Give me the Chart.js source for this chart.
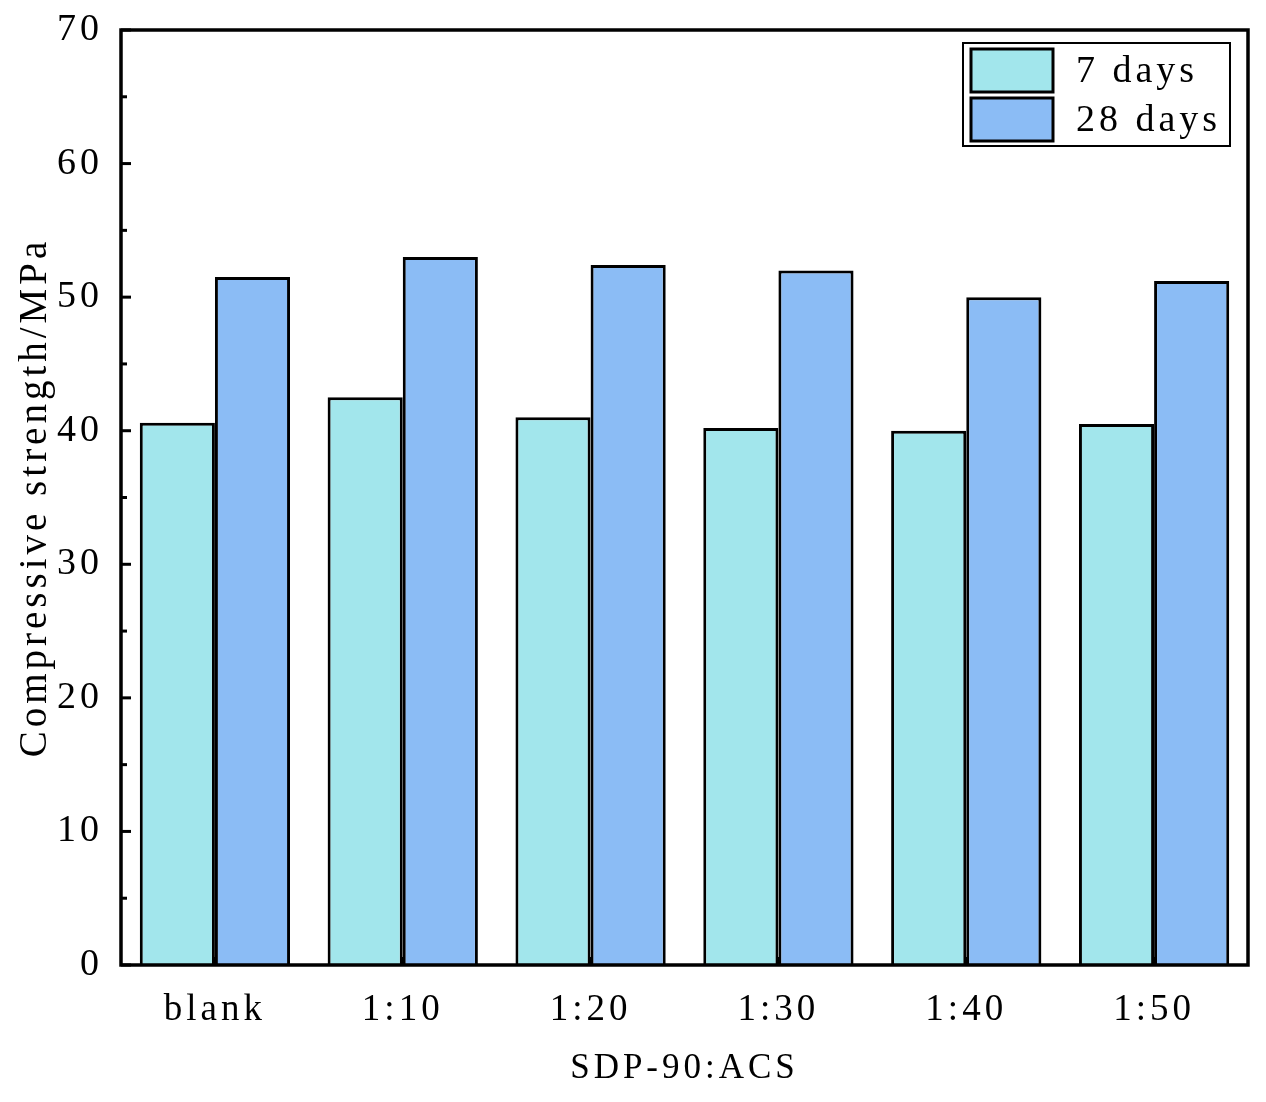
<!DOCTYPE html>
<html>
<head>
    <title>Compressive strength</title>
    <script src="https://cdn.jsdelivr.net/npm/chart.js@4.4.0/dist/chart.umd.min.js"></script>
    <style>
        html, body { margin: 0; padding: 0; background: #fff; }
        #wrap { width: 1266px; height: 1102px; }
    </style>
</head>
<body>
    <div id="wrap"><canvas id="myChart"></canvas></div>

    <script>
        const categories = ['blank', '1:10', '1:20', '1:30', '1:40', '1:50'];
        const days7 = [40.6, 42.5, 41.0, 40.2, 40.0, 40.5];
        const days28 = [51.5, 53.0, 52.4, 52.0, 50.0, 51.2];
        const seriesNames = ['7 days', '28 days'];
        const yTicks = [0, 10, 20, 30, 40, 50, 60, 70];

        const FONT = '"Liberation Serif", "DejaVu Serif", serif';
        const SPACING = '4px';
        const colors = ['#a2e6ec', '#8bbcf5'];

        // wide letter spacing so the serif text looks like the mono-spaced original
        const spacingPlugin = {
            id: 'spacing',
            beforeLayout(chart) { chart.ctx.letterSpacing = SPACING; },
            beforeDraw(chart) { chart.ctx.letterSpacing = SPACING; }
        };

        // frame, inward ticks and boxed legend
        const framePlugin = {
            id: 'frame',
            afterDraw(chart) {
                const ctx = chart.ctx;
                const a = chart.chartArea;
                const y = chart.scales.y;
                const x = chart.scales.x;
                ctx.save();
                ctx.strokeStyle = '#000';
                ctx.lineWidth = 3.5;
                ctx.strokeRect(a.left, a.top, a.right - a.left, a.bottom - a.top);

                ctx.lineWidth = 3;
                for (let v = 0; v <= 70; v += 5) {
                    const py = y.getPixelForValue(v);
                    const len = v % 10 === 0 ? 10 : 6;
                    ctx.beginPath();
                    ctx.moveTo(a.left, py);
                    ctx.lineTo(a.left + len, py);
                    ctx.stroke();
                }
                categories.forEach((c, i) => {
                    const px = x.getPixelForValue(i);
                    ctx.beginPath();
                    ctx.moveTo(px, a.bottom);
                    ctx.lineTo(px, a.bottom - 8);
                    ctx.stroke();
                });

                // legend
                const lx = 963, ly = 43, lw = 267, lh = 103;
                ctx.lineWidth = 2;
                ctx.fillStyle = '#fff';
                ctx.fillRect(lx, ly, lw, lh);
                ctx.strokeRect(lx, ly, lw, lh);
                ctx.font = '38px ' + FONT;
                ctx.letterSpacing = SPACING;
                ctx.textBaseline = 'middle';
                seriesNames.forEach((name, i) => {
                    const sy = 49 + i * 49;
                    ctx.fillStyle = colors[i];
                    ctx.fillRect(971, sy, 82, 43);
                    ctx.lineWidth = 3;
                    ctx.strokeRect(971, sy, 82, 43);
                    ctx.fillStyle = '#000';
                    ctx.fillText(name, 1076, sy + 23);
                });
                ctx.restore();
            }
        };

        const ctx = document.getElementById('myChart').getContext('2d');
        new Chart(ctx, {
            type: 'bar',
            data: {
                labels: categories,
                datasets: [
                    {
                        label: seriesNames[0],
                        data: days7,
                        backgroundColor: colors[0],
                        borderColor: '#000',
                        borderWidth: 3,
                        borderSkipped: 'bottom',
                        categoryPercentage: 0.8,
                        barPercentage: 1.0
                    },
                    {
                        label: seriesNames[1],
                        data: days28,
                        backgroundColor: colors[1],
                        borderColor: '#000',
                        borderWidth: 3,
                        borderSkipped: 'bottom',
                        categoryPercentage: 0.8,
                        barPercentage: 1.0
                    }
                ]
            },
            options: {
                responsive: true,
                maintainAspectRatio: false,
                animation: false,
                layout: { padding: { top: 30, right: 18, left: 0, bottom: 0 } },
                plugins: {
                    legend: { display: false },
                    tooltip: { enabled: false }
                },
                scales: {
                    x: {
                        grid: { display: false, drawTicks: false },
                        border: { display: false },
                        ticks: {
                            color: '#000',
                            padding: 23,
                            font: { family: FONT, size: 37 }
                        },
                        title: {
                            display: true,
                            text: 'SDP-90:ACS',
                            color: '#000',
                            padding: { top: 0, bottom: 12 },
                            font: { family: FONT, size: 35 }
                        },
                        afterFit: (s) => { s.height = 137; }
                    },
                    y: {
                        min: 0,
                        max: 70,
                        grid: { display: false, drawTicks: false },
                        border: { display: false },
                        afterBuildTicks: (s) => { s.ticks = yTicks.map(v => ({ value: v })); },
                        ticks: {
                            color: '#000',
                            padding: 18,
                            font: { family: FONT, size: 38 }
                        },
                        title: {
                            display: true,
                            text: 'Compressive strength/MPa',
                            color: '#000',
                            padding: { top: 12, bottom: 0 },
                            font: { family: FONT, size: 39 }
                        },
                        afterFit: (s) => {
                            s.width = 121;
                            s.paddingTop = 0;
                            s.paddingBottom = 0;
                        }
                    }
                }
            },
            plugins: [spacingPlugin, framePlugin]
        });
    </script>
</body>
</html>
